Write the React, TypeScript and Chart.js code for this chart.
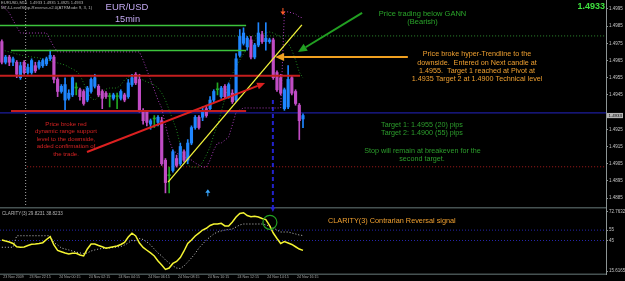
import React, { useEffect, useRef } from 'react';
import { Chart, registerables } from 'chart.js';

Chart.register(...registerables);

const FONT = '"Liberation Sans", Arial, sans-serif';

// ---------- categories (15-minute slots, incl. empty right margin) ----------
const SLOT_COUNT = 163;
const SLOTS = Array.from({ length: SLOT_COUNT }, (_, i) => String(i));

// ---------- EUR/USD 15min candles ----------
const OPEN = [1.4976,1.4964,1.4967,1.4964,1.4964,1.4955,1.4964,1.4958,1.4958,1.4962,
  1.4961,1.4962,1.4963,1.4966,1.4967,1.4954,1.4947,1.4942,1.4943,1.4945,
  1.4949,1.4948,1.4947,1.4942,1.4947,1.4950,1.4950,1.4947,1.4946,1.4944,
  1.4943,1.4944,1.4943,1.4945,1.4944,1.4951,1.4957,1.4954,1.4936,1.4935,
  1.4928,1.4931,1.4929,1.4930,1.4907,1.4898,1.4901,1.4908,1.4905,1.4912,
  1.4907,1.4917,1.4926,1.4932,1.4932,1.4937,1.4937,1.4942,1.4948,1.4944,
  1.4950,1.4944,1.4946,1.4942,1.4968,1.4975,1.4973,1.4977,1.4967,1.4974,
  1.4980,1.4976,1.4976,1.4977,1.4958,1.4955,1.4937,1.4938,1.4955,1.4947,
  1.4939,1.4931];
const HIGH = [1.4977,1.4968,1.4968,1.4967,1.4965,1.4964,1.4965,1.4963,1.4966,1.4964,
  1.4965,1.4966,1.4967,1.4971,1.4968,1.4955,1.4951,1.4955,1.4948,1.4956,
  1.4952,1.4949,1.4948,1.4950,1.4955,1.4957,1.4951,1.4948,1.4947,1.4946,
  1.4946,1.4946,1.4948,1.4946,1.4954,1.4957,1.4958,1.4957,1.4937,1.4936,
  1.4931,1.4933,1.4933,1.4932,1.4908,1.4903,1.4913,1.4910,1.4917,1.4913,
  1.4919,1.4927,1.4933,1.4933,1.4938,1.4939,1.4944,1.4948,1.4952,1.4950,
  1.4951,1.4952,1.4948,1.4969,1.4983,1.4984,1.4979,1.4979,1.4975,1.4987,
  1.4982,1.4987,1.4978,1.4978,1.4959,1.4957,1.4949,1.4962,1.4956,1.4948,
  1.4940,1.4934];
const LOW = [1.4963,1.4963,1.4962,1.4962,1.4955,1.4954,1.4957,1.4957,1.4957,1.4958,
  1.4960,1.4961,1.4962,1.4965,1.4952,1.4944,1.4946,1.4936,1.4942,1.4944,
  1.4945,1.4942,1.4939,1.4941,1.4946,1.4949,1.4944,1.4937,1.4943,1.4938,
  1.4942,1.4937,1.4942,1.4941,1.4943,1.4950,1.4951,1.4935,1.4928,1.4927,
  1.4925,1.4926,1.4927,1.4904,1.4888,1.4888,1.4900,1.4903,1.4904,1.4906,
  1.4905,1.4916,1.4925,1.4925,1.4930,1.4932,1.4936,1.4941,1.4945,1.4943,
  1.4943,1.4943,1.4940,1.4941,1.4967,1.4974,1.4971,1.4966,1.4966,1.4973,
  1.4975,1.4971,1.4975,1.4954,1.4947,1.4945,1.4936,1.4937,1.4945,1.4939,
  1.4919,1.4926];
const CLOSE = [1.4964,1.4967,1.4964,1.4966,1.4957,1.4962,1.4958,1.4961,1.4965,1.4959,
  1.4964,1.4965,1.4966,1.4968,1.4954,1.4947,1.4950,1.4951,1.4946,1.4955,
  1.4949,1.4944,1.4940,1.4949,1.4954,1.4955,1.4945,1.4943,1.4944,1.4944,
  1.4945,1.4944,1.4947,1.4942,1.4952,1.4955,1.4952,1.4936,1.4930,1.4929,
  1.4930,1.4931,1.4932,1.4905,1.4894,1.4898,1.4912,1.4904,1.4915,1.4907,
  1.4917,1.4926,1.4932,1.4926,1.4936,1.4933,1.4942,1.4947,1.4948,1.4949,
  1.4944,1.4951,1.4941,1.4966,1.4979,1.4981,1.4978,1.4967,1.4974,1.4981,
  1.4976,1.4978,1.4977,1.4955,1.4948,1.4946,1.4948,1.4954,1.4946,1.4940,
  1.4930,1.4933];

// LevelStop-Reverse trailing stop (purple dotted)
const LEVEL_STOP = [1.4997,1.4995,1.49927,1.49886,1.49845,1.4981,1.4981,1.4981,1.4981,1.4981,
  1.4981,1.4981,1.4981,1.4977,1.49729,1.497,1.497,1.497,1.497,1.497,
  1.497,1.497,1.497,1.497,1.497,1.497,1.497,1.497,1.497,1.497,
  1.497,1.497,1.497,1.497,1.497,1.497,1.497,1.497,1.49653,1.49595,
  1.49537,1.49479,1.4942,1.49374,1.49275,1.49187,1.49129,1.49112,1.491,1.49089,
  1.49083,1.49071,1.49054,1.49042,1.4903,1.4903,1.49071,1.49129,1.4917,1.4917,
  1.49187,1.49205,1.49275,1.4935,1.49362,1.49374,1.49374,1.49374,1.49374,1.49374,
  1.49374,1.49374,1.49374,1.49374,1.49374,1.49374,1.49933,1.49933,1.49927,1.49921,
  1.49903,1.49898];

// green dotted moving line
const GREEN_DOTTED = [1.49711,1.49706,1.497,1.49694,1.49688,1.49682,1.49676,1.49674,1.49671,1.49668,
  1.49665,1.49659,1.49653,1.49647,1.49641,1.49636,1.4963,1.49624,1.49612,1.49601,
  1.49589,1.49566,1.49519,1.49467,1.49432,1.4942,1.49438,1.49467,1.49484,1.4949,
  1.4949,1.4949,1.49508,1.49537,1.49554,1.4956,1.49554,1.49543,1.49537,1.49525,
  1.49519,1.49508,1.4949,1.49461,1.4942,1.49362,1.49304,1.49246,1.49158,1.49089,
  1.49042,1.4903,1.4903,1.4903,1.49059,1.491,1.49147,1.49217,1.49275,1.4935,
  1.49432,1.49519,1.49572,1.49612,1.49653,1.49688,1.49717,1.49746,1.4977,1.49793,
  1.49805,1.4981,1.49816,1.4981,1.49799,1.49787,1.4977,1.49752,1.49711,1.49653,
  1.49583,1.49548];

const PRICE_TICKS = [1.4995, 1.4985, 1.4975, 1.4965, 1.4955, 1.4945, 1.4925, 1.4915, 1.4905, 1.4895, 1.4885];
const PRICE_MIN = 1.48798;
const PRICE_MAX = 1.50002;
const CURRENT_PRICE = 1.4933;

// horizontal levels
const GANN_UPPER = 1.49854;
const GANN_LOWER = 1.49708;
const GREEN_DOTTED_LEVEL = 1.49793;
const RED_RANGE_TOP = 1.49562;
const RED_RANGE_BOTTOM = 1.49357;
const PIVOT_LEVEL = 1.49345;
const TECH_LEVEL = 1.49032;

// annotation anchors (bar index, price)
const TRENDLINE = [[44.7, 1.48943], [80.7, 1.49857]];
const RED_ARROW = [[22.9, 1.49118], [70.8, 1.49519]];
const GREEN_ARROW = [[96.9, 1.49927], [79.65, 1.497]];
const ORANGE_ARROW = [[109.2, 1.49671], [73.5, 1.49671]];
const SELL_SIGNAL = [75.6, 1.49915];
const BUY_SIGNAL = [55.4, 1.48901];
const SESSION_MARK_BAR = 6.4;
const ENTRY_MARK = [72.9, 1.4942];

// ---------- CLARITY(3) indicator ----------
const CLARITY = [45.5,44.5,43.6,42.1,39.0,38.5,38.8,40.2,41.4,41.6,
  42.1,42.9,46.0,48.7,40.7,35.4,34.2,33.0,32.0,32.7,
  32.7,31.0,30.1,36.8,41.6,41.6,40.2,39.0,37.5,38.3,
  39.0,39.7,41.2,43.1,48.4,52.0,49.4,42.6,38.3,35.6,
  33.0,30.1,25.3,21.4,17.1,18.5,22.9,24.8,28.6,34.9,
  42.1,45.5,49.4,52.2,55.1,56.8,59.5,60.9,60.9,61.6,
  59.0,59.0,62.8,67.7,71.0,71.8,69.1,67.9,68.4,67.7,
  66.2,65.2,59.5,52.2,46.9,42.1,43.9,42.6,41.2,39.0,
  36.8,35.5];
const CLARITY_SIGNAL = [38.5,38.5,38.5,38.5,49.6,49.6,49.6,49.6,49.6,49.6,
  49.6,49.6,49.6,49.6,42.9,40.7,37.8,36.8,35.9,34.9,
  33.9,33.0,32.5,33.0,34.9,35.9,36.8,37.3,37.8,37.8,
  38.3,38.8,39.2,40.7,42.6,45.5,44.5,46.9,46.0,43.6,
  40.7,36.8,33.0,30.1,26.3,23.4,20.5,18.5,18.0,20.5,
  24.3,28.2,32.5,37.8,41.6,45.5,48.4,51.3,53.2,54.2,
  55.1,55.6,56.1,58.0,60.0,60.9,60.9,60.9,60.9,60.9,
  60.9,60.0,59.0,57.1,55.1,53.2,53.2,53.2,52.2,51.3,
  50.3,49.8];
const CLARITY_TICKS = [72.7632, 55, 45, 15.6165];
const CLARITY_LEVELS = [55, 45];
const CLARITY_MIN = 12.73;
const CLARITY_MAX = 77.29;
const REVERSAL_CIRCLE = [72.1, 62.55];

const TIME_TICK_BARS = [0, 7, 15, 23, 31, 39, 47, 55, 63, 71, 79];
const TIME_TICK_LABELS = ['23 Nov 2009', '23 Nov 22:15', '24 Nov 00:15', '24 Nov 02:15', '24 Nov 04:15',
  '24 Nov 06:15', '24 Nov 08:15', '24 Nov 10:15', '24 Nov 12:15', '24 Nov 14:15', '24 Nov 16:15'];

// ---------- colours ----------
const BULL = '#1f86ff';
const BEAR = '#c04cc4';
const DOJI = '#22a822';
const AXIS = '#8c9494';

function candleColor(i: number) {
  if (CLOSE[i] > OPEN[i]) return BULL;
  if (CLOSE[i] < OPEN[i]) return BEAR;
  return DOJI;
}

function line(ctx: any, x1: number, y1: number, x2: number, y2: number, color: string, width: number, dash: number[] = []) {
  ctx.save();
  ctx.strokeStyle = color;
  ctx.lineWidth = width;
  ctx.setLineDash(dash);
  ctx.beginPath();
  ctx.moveTo(x1, y1);
  ctx.lineTo(x2, y2);
  ctx.stroke();
  ctx.restore();
}

function arrow(ctx: any, x1: number, y1: number, x2: number, y2: number, color: string, width: number, len: number, half: number) {
  const ang = Math.atan2(y2 - y1, x2 - x1);
  const bx = x2 - len * Math.cos(ang);
  const by = y2 - len * Math.sin(ang);
  line(ctx, x1, y1, bx, by, color, width);
  ctx.save();
  ctx.fillStyle = color;
  ctx.beginPath();
  ctx.moveTo(x2, y2);
  ctx.lineTo(bx + half * Math.sin(ang), by - half * Math.cos(ang));
  ctx.lineTo(bx - half * Math.sin(ang), by + half * Math.cos(ang));
  ctx.closePath();
  ctx.fill();
  ctx.restore();
}

function text(ctx: any, s: string, x: number, y: number, size: number, color: string, align = 'left', bold = false) {
  ctx.save();
  ctx.font = `${bold ? 'bold ' : ''}${size}px ${FONT}`;
  ctx.fillStyle = color;
  ctx.textAlign = align;
  ctx.textBaseline = 'alphabetic';
  ctx.fillText(s, x, y);
  ctx.restore();
}

const mainOverlay = {
  id: 'mainOverlay',
  beforeDatasetsDraw(chart: any) {
    const { ctx, chartArea: a } = chart;
    const sx = chart.scales.x;
    const sy = chart.scales.y;
    const bx = (b: number) => sx.getPixelForValue(b);
    const py = (p: number) => sy.getPixelForValue(p);
    line(ctx, a.left, py(PIVOT_LEVEL), a.right, py(PIVOT_LEVEL), '#1c1c9c', 1.3);
    line(ctx, bx(7.6), py(GREEN_DOTTED_LEVEL), a.right, py(GREEN_DOTTED_LEVEL), '#2f8f2f', 1, [1, 2]);
    line(ctx, bx(6.8), py(TECH_LEVEL), a.right, py(TECH_LEVEL), '#a81c1c', 1, [1, 2]);
    line(ctx, bx(SESSION_MARK_BAR), a.top, bx(SESSION_MARK_BAR), a.bottom, '#a8a8a8', 1, [1, 2]);
    line(ctx, bx(ENTRY_MARK[0]), py(ENTRY_MARK[1]), bx(ENTRY_MARK[0]), a.bottom, '#2222cc', 2, [4, 3]);
  },
  afterDatasetsDraw(chart: any) {
    const { ctx, chartArea: a } = chart;
    const sx = chart.scales.x;
    const sy = chart.scales.y;
    const bx = (b: number) => sx.getPixelForValue(b);
    const py = (p: number) => sy.getPixelForValue(p);
    // GANN and range lines
    line(ctx, a.left, py(GANN_UPPER), bx(65.7), py(GANN_UPPER), '#3cc43c', 1.5);
    line(ctx, bx(2.46), py(GANN_LOWER), bx(65.7), py(GANN_LOWER), '#3cc43c', 1.5);
    line(ctx, a.left, py(RED_RANGE_TOP), bx(80.2), py(RED_RANGE_TOP), '#c41e1e', 2);
    line(ctx, bx(2.46), py(RED_RANGE_BOTTOM), bx(65.7), py(RED_RANGE_BOTTOM), '#c41e1e', 2);
    // hyper trendline
    line(ctx, bx(TRENDLINE[0][0]), py(TRENDLINE[0][1]), bx(TRENDLINE[1][0]), py(TRENDLINE[1][1]), '#f2f23a', 1.3);
    // arrows
    arrow(ctx, bx(RED_ARROW[0][0]), py(RED_ARROW[0][1]), bx(RED_ARROW[1][0]), py(RED_ARROW[1][1]), '#dc2020', 2, 8, 3.5);
    arrow(ctx, bx(GREEN_ARROW[0][0]), py(GREEN_ARROW[0][1]), bx(GREEN_ARROW[1][0]), py(GREEN_ARROW[1][1]), '#22a022', 2, 9, 4);
    arrow(ctx, bx(ORANGE_ARROW[0][0]), py(ORANGE_ARROW[0][1]), bx(ORANGE_ARROW[1][0]), py(ORANGE_ARROW[1][1]), '#f0a020', 2, 9, 4);
    // signal arrows
    const sxp = bx(SELL_SIGNAL[0]);
    const syp = py(SELL_SIGNAL[1]);
    line(ctx, sxp, syp - 7, sxp, syp - 3, '#ff5a28', 1);
    ctx.save();
    ctx.fillStyle = '#ff5a28';
    ctx.beginPath();
    ctx.moveTo(sxp, syp);
    ctx.lineTo(sxp - 2.5, syp - 3.5);
    ctx.lineTo(sxp + 2.5, syp - 3.5);
    ctx.closePath();
    ctx.fill();
    ctx.restore();
    const uxp = bx(BUY_SIGNAL[0]);
    const uyp = py(BUY_SIGNAL[1]);
    line(ctx, uxp, uyp + 3, uxp, uyp + 7, '#3aa8ff', 1);
    ctx.save();
    ctx.fillStyle = '#3aa8ff';
    ctx.beginPath();
    ctx.moveTo(uxp, uyp);
    ctx.lineTo(uxp - 2.5, uyp + 3.5);
    ctx.lineTo(uxp + 2.5, uyp + 3.5);
    ctx.closePath();
    ctx.fill();
    ctx.restore();

    // header texts
    text(ctx, 'EURUSD,M15  1.4933 1.4935 1.4925 1.4933', 1, 4.3, 4.1, '#b4b4b4');
    text(ctx, 'MT4-LevelStop-Reverse-v2.0(ATRMode 9, 3, 1)', 1, 8.6, 4.3, '#b4b4b4');
    text(ctx, 'EUR/USD', 127, 10.2, 9.5, '#c2a8f0', 'center');
    text(ctx, '15min', 127.5, 22, 9.2, '#c2a8f0', 'center');
    text(ctx, '1.4933', 605, 9.4, 9, '#3ee03e', 'right', true);

    // annotations
    text(ctx, 'Price trading below GANN', 422.5, 16.2, 7.5, '#2aa52a', 'center');
    text(ctx, '(Bearish)', 422.5, 24.3, 7.5, '#2aa52a', 'center');

    const orange = '#f0a030';
    text(ctx, 'Price broke hyper-Trendline to the', 477, 56.2, 7.2, orange, 'center');
    text(ctx, 'downside.  Entered on Next candle at', 477, 64.5, 7.2, orange, 'center');
    text(ctx, '1.4955.  Target 1 reached at Pivot at', 477, 72.8, 7.2, orange, 'center');
    text(ctx, '1.4935 Target 2 at 1.4900 Technical level', 477, 81.1, 7.2, orange, 'center');

    const green = '#2c9e2c';
    text(ctx, 'Target 1: 1.4955 (20) pips', 422, 126.5, 7.2, green, 'center');
    text(ctx, 'Target 2: 1.4900 (55) pips', 422, 134.8, 7.2, green, 'center');
    text(ctx, 'Stop will remain at breakeven for the', 422.5, 152.5, 7.2, green, 'center');
    text(ctx, 'second target.', 422, 160.8, 7.2, green, 'center');

    const red = '#d42222';
    text(ctx, 'Price broke red', 66, 125.5, 6.1, red, 'center');
    text(ctx, 'dynamic range support', 66, 132.6, 6.1, red, 'center');
    text(ctx, 'level to the downside,', 66, 140.6, 6.1, red, 'center');
    text(ctx, 'added confirmation of', 66, 148.2, 6.1, red, 'center');
    text(ctx, 'the trade.', 66, 155.5, 6.1, red, 'center');
  },
  afterDraw(chart: any) {
    const { ctx, chartArea: a } = chart;
    const y = chart.scales.y.getPixelForValue(CURRENT_PRICE);
    ctx.save();
    ctx.fillStyle = '#b4b4b4';
    ctx.fillRect(a.right + 1, y - 2.6, 16, 5.2);
    ctx.restore();
    text(ctx, CURRENT_PRICE.toFixed(4), a.right + 2.5, y + 1.6, 4.4, '#000000');
  },
};

const indicatorOverlay = {
  id: 'indicatorOverlay',
  beforeDatasetsDraw(chart: any) {
    const { ctx, chartArea: a } = chart;
    const sy = chart.scales.y;
    CLARITY_LEVELS.forEach((v) => {
      line(ctx, a.left, sy.getPixelForValue(v), a.right, sy.getPixelForValue(v), '#2626aa', 1, [1, 2]);
    });
  },
  afterDatasetsDraw(chart: any) {
    const { ctx, chartArea: a } = chart;
    const sx = chart.scales.x;
    const sy = chart.scales.y;
    // panel separators
    line(ctx, 0, a.top + 0.75, a.right, a.top + 0.75, '#465252', 1.5);
    line(ctx, 0, a.bottom + 0.25, a.right, a.bottom + 0.25, '#465252', 1.5);
    // reversal circle
    ctx.save();
    ctx.strokeStyle = '#22a022';
    ctx.lineWidth = 1.2;
    ctx.beginPath();
    ctx.arc(sx.getPixelForValue(REVERSAL_CIRCLE[0]), sy.getPixelForValue(REVERSAL_CIRCLE[1]), 7, 0, Math.PI * 2);
    ctx.stroke();
    ctx.restore();
    // entry arrow tip
    const ex = sx.getPixelForValue(ENTRY_MARK[0]);
    ctx.save();
    ctx.fillStyle = '#2222cc';
    ctx.beginPath();
    ctx.moveTo(ex - 2.5, a.top);
    ctx.lineTo(ex + 2.5, a.top);
    ctx.lineTo(ex, a.top + 5);
    ctx.closePath();
    ctx.fill();
    ctx.restore();
    text(ctx, 'CLARITY(3) 29.8231 38.8233', 2, a.top + 8, 4.6, '#b4b4b4');
    text(ctx, 'CLARITY(3) Contrarian Reversal signal', 328, a.top + 16, 7.3, '#f0a030');
  },
};

export default function App() {
  const mainRef = useRef<HTMLCanvasElement | null>(null);
  const indRef = useRef<HTMLCanvasElement | null>(null);

  useEffect(() => {
    Chart.defaults.font.family = FONT;
    const bodyColors = OPEN.map((_, i) => candleColor(i));
    const main = new Chart(mainRef.current as HTMLCanvasElement, {
      type: 'bar',
      data: {
        labels: SLOTS,
        datasets: [
          {
            type: 'bar',
            label: 'body',
            data: OPEN.map((o, i) => [Math.min(o, CLOSE[i]), Math.max(o, CLOSE[i])]),
            backgroundColor: bodyColors,
            borderWidth: 0,
            barThickness: 2.5,
            minBarLength: 1,
            grouped: false,
            order: 1,
          } as any,
          {
            type: 'bar',
            label: 'wick',
            data: LOW.map((l, i) => [l, HIGH[i]]),
            backgroundColor: bodyColors,
            borderWidth: 0,
            barThickness: 1,
            grouped: false,
            order: 2,
          } as any,
          {
            type: 'line',
            label: 'LevelStop',
            data: LEVEL_STOP,
            borderColor: '#a83cb8',
            borderWidth: 1,
            borderDash: [1, 2],
            pointRadius: 0,
            tension: 0,
            order: 3,
          } as any,
          {
            type: 'line',
            label: 'green',
            data: GREEN_DOTTED,
            borderColor: '#1f861f',
            borderWidth: 1,
            borderDash: [1, 2],
            pointRadius: 0,
            tension: 0,
            order: 4,
          } as any,
        ],
      },
      options: {
        animation: false,
        responsive: false,
        events: [],
        layout: { padding: 0 },
        plugins: { legend: { display: false }, tooltip: { enabled: false } },
        scales: {
          x: { type: 'category', offset: true, display: false },
          y: {
            position: 'right',
            min: PRICE_MIN,
            max: PRICE_MAX,
            afterBuildTicks: (s: any) => { s.ticks = PRICE_TICKS.map((v) => ({ value: v })); },
            afterFit: (s: any) => { s.width = 19; s.paddingTop = 0; s.paddingBottom = 0; },
            ticks: {
              autoSkip: false,
              color: '#c4c4c4',
              font: { size: 4.5, family: FONT },
              padding: 1,
              callback: (v: any) => Number(v).toFixed(4),
            },
            grid: { drawOnChartArea: false, drawTicks: true, tickLength: 2, color: AXIS },
            border: { display: true, color: AXIS },
          },
        },
      } as any,
      plugins: [mainOverlay as any],
    });

    const ind = new Chart(indRef.current as HTMLCanvasElement, {
      type: 'line',
      data: {
        labels: SLOTS,
        datasets: [
          {
            label: 'CLARITY',
            data: CLARITY,
            borderColor: '#f4f432',
            borderWidth: 1.5,
            pointRadius: 0,
            tension: 0,
            order: 1,
          },
          {
            label: 'signal',
            data: CLARITY_SIGNAL,
            borderColor: '#c8c8c8',
            borderWidth: 1,
            borderDash: [1, 2],
            pointRadius: 0,
            tension: 0,
            order: 2,
          },
        ],
      },
      options: {
        animation: false,
        responsive: false,
        events: [],
        layout: { padding: 0 },
        plugins: { legend: { display: false }, tooltip: { enabled: false } },
        scales: {
          x: {
            type: 'category',
            offset: true,
            afterFit: (s: any) => { s.height = 7; s.paddingLeft = 0; s.paddingRight = 0; },
            ticks: {
              autoSkip: false,
              maxRotation: 0,
              minRotation: 0,
              align: 'start',
              labelOffset: 1.5,
              padding: 1,
              color: '#a8a8a8',
              font: { size: 3.6, family: FONT },
              callback: (_v: any, i: number) => {
                const k = TIME_TICK_BARS.indexOf(i);
                return k >= 0 ? TIME_TICK_LABELS[k] : '';
              },
            },
            grid: { display: false, drawTicks: false },
            border: { display: false },
          },
          y: {
            position: 'right',
            min: CLARITY_MIN,
            max: CLARITY_MAX,
            afterBuildTicks: (s: any) => { s.ticks = CLARITY_TICKS.map((v) => ({ value: v })); },
            afterFit: (s: any) => { s.width = 19; s.paddingTop = 0; s.paddingBottom = 0; },
            ticks: {
              autoSkip: false,
              color: '#c4c4c4',
              font: { size: 4.5, family: FONT },
              padding: 1,
              callback: (v: any) => String(v),
            },
            grid: { drawOnChartArea: false, drawTicks: true, tickLength: 2, color: AXIS },
            border: { display: true, color: AXIS },
          },
        },
      } as any,
      plugins: [indicatorOverlay as any],
    });

    return () => {
      main.destroy();
      ind.destroy();
    };
  }, []);

  return (
    <div style={{ position: 'fixed', left: 0, top: 0, width: 625, height: 281, background: '#000000', overflow: 'hidden' }}>
      <div style={{ position: 'absolute', left: 0, top: 0, width: 625, height: 207 }}>
        <canvas ref={mainRef} width={625} height={207} style={{ display: 'block' }} />
      </div>
      <div style={{ position: 'absolute', left: 0, top: 207, width: 625, height: 74 }}>
        <canvas ref={indRef} width={625} height={74} style={{ display: 'block' }} />
      </div>
    </div>
  );
}
